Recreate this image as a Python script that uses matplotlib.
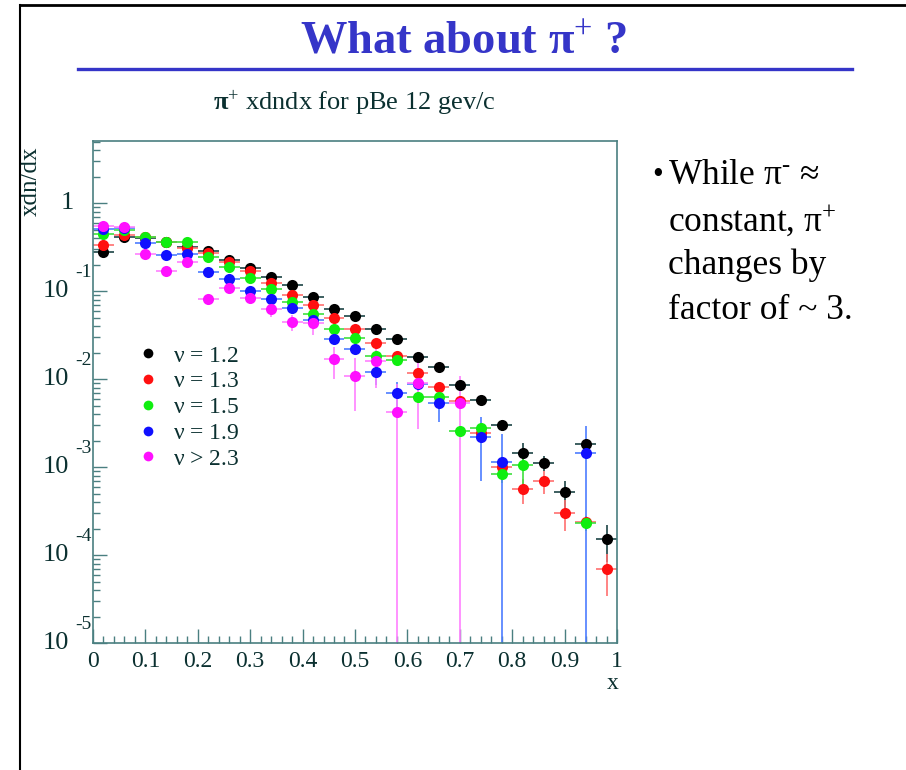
import matplotlib

matplotlib.use("Agg")
import matplotlib.pyplot as plt
import matplotlib.transforms as mtransforms
import numpy as np
from matplotlib.lines import Line2D
from matplotlib.ticker import FixedLocator, MultipleLocator, NullFormatter

plt.rcParams.update(
    {
        "font.family": ["Liberation Serif", "DejaVu Serif"],
        "mathtext.fontset": "custom",
        "mathtext.rm": "Liberation Serif",
        "mathtext.it": "Liberation Serif:italic",
        "mathtext.bf": "Liberation Serif:bold",
    }
)

nan = np.nan

# bin centres in x (bin width 0.04)
X_CENTERS = [0.02, 0.06, 0.10, 0.14, 0.18, 0.22, 0.26, 0.30, 0.34, 0.38, 0.42, 0.46, 0.50,
             0.54, 0.58, 0.62, 0.66, 0.70, 0.74, 0.78, 0.82, 0.86, 0.90, 0.94, 0.98]
X_HALF_WIDTH = 0.02

# x dn/dx per nu bin
NU_12 = [0.275, 0.414, 0.40, 0.365, 0.316, 0.285, 0.227, 0.184, 0.143, 0.117, 0.0848, 0.0624, 0.0524,
         0.0367, 0.0282, 0.0177, 0.0138, 0.0086, 0.00577, 0.00300, 0.00145, 0.00112, 0.00052, 0.00182, 0.000152]
NU_13 = [0.333, 0.43, 0.41, 0.365, 0.306, 0.268, 0.212, 0.169, 0.122, 0.090, 0.0693, 0.0497, 0.0367,
         0.0255, 0.0183, 0.0116, 0.00817, 0.0057, 0.00243, 0.00101, 0.00056, 0.00070, 0.000304, 0.000235, 0.0000687]
NU_15 = [0.441, 0.50, 0.414, 0.363, 0.357, 0.245, 0.187, 0.139, 0.105, 0.0755, 0.0548, 0.0370, 0.0290,
         0.0183, 0.0164, 0.00629, 0.00629, 0.00256, 0.00275, 0.00083, 0.00105, nan, nan, 0.000233, nan]
NU_19 = [0.507, 0.52, 0.348, 0.256, 0.263, 0.163, 0.137, 0.100, 0.0805, 0.0636, 0.047, 0.0282, 0.0219,
         0.0121, 0.00687, 0.00871, 0.00538, nan, 0.00221, 0.00115, nan, nan, nan, 0.00143, nan]
NU_23 = [0.552, 0.533, 0.263, 0.169, 0.215, 0.0805, 0.107, 0.0826, 0.0624, 0.0443, 0.0430, 0.0167, 0.0108,
         0.0160, 0.00425, 0.00908, nan, 0.00534, nan, nan, nan, nan, nan, nan, nan]

# relative statistical errors
ERR_12 = [0.02, 0.02, 0.02, 0.02, 0.02, 0.02, 0.02, 0.02, 0.02, 0.02, 0.03, 0.03, 0.03,
          0.03, 0.05, 0.05, 0.05, 0.07, 0.12, 0.15, 0.28, 0.20, 0.35, 0.15, 0.45]
ERR_13 = [0.03, 0.03, 0.03, 0.03, 0.03, 0.03, 0.03, 0.03, 0.03, 0.03, 0.04, 0.04, 0.04,
          0.04, 0.06, 0.08, 0.10, 0.12, 0.20, 0.25, 0.32, 0.30, 0.38, 0.15, 0.50]
ERR_15 = [0.03, 0.03, 0.03, 0.03, 0.03, 0.03, 0.03, 0.03, 0.03, 0.03, 0.05, 0.05, 0.05,
          0.05, 0.08, 0.10, 0.10, 0.15, 0.15, 0.20, 0.43, nan, nan, 0.20, nan]
ERR_19 = [0.04, 0.04, 0.04, 0.04, 0.04, 0.04, 0.04, 0.04, 0.04, 0.04, 0.06, 0.10, 0.12,
          0.30, 0.35, 0.15, 0.40, nan, 0.69, 1.05, nan, nan, nan, 1.05, nan]
ERR_23 = [0.04, 0.04, 0.04, 0.04, 0.04, 0.10, 0.10, 0.12, 0.18, 0.20, 0.27, 0.40, 0.60,
          0.50, 1.05, 0.70, nan, 1.05, nan, nan, nan, nan, nan, nan, nan]

SERIES = [
    (r"$\mathrm{\nu}$ = 1.2", NU_12, ERR_12, "#000000", "#1d4446"),
    (r"$\mathrm{\nu}$ = 1.3", NU_13, ERR_13, "#ff1010", "#ff7070"),
    (r"$\mathrm{\nu}$ = 1.5", NU_15, ERR_15, "#10ee10", "#40e040"),
    (r"$\mathrm{\nu}$ = 1.9", NU_19, ERR_19, "#1010ff", "#4d7dff"),
    (r"$\mathrm{\nu}$ > 2.3", NU_23, ERR_23, "#ff10ff", "#ff80ff"),
]

X_TICKS = [0.0, 0.1, 0.2, 0.3, 0.4, 0.5, 0.6, 0.7, 0.8, 0.9, 1.0]
X_TICK_LABELS = ["0", "0.1", "0.2", "0.3", "0.4", "0.5", "0.6", "0.7", "0.8", "0.9", "1"]
Y_DECADES = [1e-5, 1e-4, 1e-3, 1e-2, 1e-1, 1.0]
Y_EXPONENTS = ["-5", "-4", "-3", "-2", "-1", None]

FRAME = "#4a7f80"
INK = "#0b3030"
SLIDE_BLUE = "#3535c8"

fig = plt.figure(figsize=(9.06, 7.70), dpi=100)
ax = fig.add_axes([0.1026, 0.1649, 0.5784, 0.652])

for label, vals, rel, color, ecolor in SERIES:
    y = np.array(vals, dtype=float)
    yerr = np.array(rel, dtype=float) * y
    ax.errorbar(X_CENTERS, y, xerr=X_HALF_WIDTH, yerr=yerr, fmt="o", color=color,
                markersize=8, markeredgewidth=0, ecolor=ecolor, elinewidth=1.2, capsize=0)

ax.set_yscale("log", nonpositive="clip")
ax.set_xlim(0, 1)
ax.set_ylim(1e-5, 5.07)

ax.xaxis.set_major_locator(FixedLocator(X_TICKS))
ax.set_xticklabels(X_TICK_LABELS)
ax.xaxis.set_minor_locator(MultipleLocator(0.02))
ax.yaxis.set_major_locator(FixedLocator(Y_DECADES))
ax.yaxis.set_minor_locator(FixedLocator([m * d for d in Y_DECADES for m in range(2, 10)]))
ax.yaxis.set_major_formatter(NullFormatter())
ax.yaxis.set_minor_formatter(NullFormatter())
ax.tick_params(which="both", direction="in", color=FRAME, width=1.0, top=False, right=False)
ax.tick_params(which="major", length=10)
ax.tick_params(which="minor", length=5)
ax.tick_params(axis="x", labelsize=17, labelcolor=INK, pad=6)
for spine in ax.spines.values():
    spine.set_color(FRAME)
    spine.set_linewidth(1.2)

# ROOT-style log labels: "10" on the tick, exponent raised to its right
ylab = mtransforms.blended_transform_factory(ax.transAxes, ax.transData)
sup = mtransforms.offset_copy(ylab, fig=fig, x=0, y=13, units="points")
for val, exp in zip(Y_DECADES, Y_EXPONENTS):
    if exp is None:
        ax.text(-0.036, val, "1", transform=ylab, ha="right", va="center", fontsize=19, color=INK)
    else:
        ax.text(-0.045, val, "10", transform=ylab, ha="right", va="center", fontsize=19, color=INK)
        ax.text(-0.034, val, exp, transform=sup, ha="left", va="center", fontsize=14, color=INK)

ax.set_xlabel("x", fontsize=17, color=INK, loc="right")
ax.xaxis.set_label_coords(1.004, -0.06)
ax.set_ylabel("xdn/dx", fontsize=18, color=INK, loc="top")
ax.yaxis.set_label_coords(-0.098, 0.99)

handles = [Line2D([], [], marker="o", ls="none", color=c, markersize=7, markeredgewidth=0)
           for _, _, _, c, _ in SERIES]
ax.legend(handles, [s[0] for s in SERIES], loc="upper left", bbox_to_anchor=(0.06, 0.617),
          frameon=False, fontsize=17, handlelength=1.0, handletextpad=0.55, labelspacing=0.18,
          borderpad=0, labelcolor=INK)

# slide decorations
fig.text(0.512, 0.944, r"What about $\mathbf{\pi}^{+}$ ?", ha="center", va="center",
         fontsize=33.5, fontweight="bold", color=SLIDE_BLUE)
fig.add_artist(Line2D([0.086, 0.940], [0.9104, 0.9104], color=SLIDE_BLUE, linewidth=2.4))
fig.add_artist(Line2D([0.022, 1.0], [0.993, 0.993], color="black", linewidth=2.0))
fig.add_artist(Line2D([0.022, 0.022], [0.0, 0.993], color="black", linewidth=1.5))
fig.text(0.235, 0.866, r"$\mathbf{\pi}^{+}$ xdndx for pBe 12 gev/c", ha="left", va="center",
         fontsize=19, color=INK)

fig.text(0.72, 0.772, "\u2022", ha="left", va="center", fontsize=22, color="black")
bullet_lines = [r"While $\mathrm{\pi}^{\text{-}}$ ≈", r"constant, $\mathrm{\pi}^{+}$",
                "changes by", "factor of ~ 3."]
for i, line in enumerate(bullet_lines):
    fig.text(0.737, 0.772 - i * 0.0584, line, ha="left", va="center", fontsize=25.5, color="black")

fig.savefig("out.png", dpi=100)
